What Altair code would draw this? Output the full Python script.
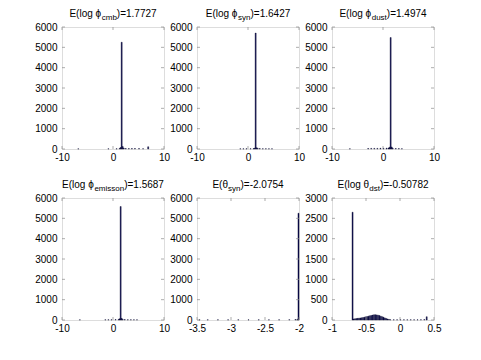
import altair as alt
import pandas as pd

# ---------------- data ----------------
# panel 1: E(log phi_cmb)
p1_start = [-6.9, -1.0, 0.6, 1.2, 1.4, 1.6, 1.8, 2.0, 2.4, 3.0, 3.6, 4.2, 5.0, 5.8, 6.8]
p1_count = [8, 10, 15, 30, 70, 5250, 120, 45, 25, 20, 20, 25, 20, 15, 110]
# panel 2: E(log phi_syn)
p2_start = [-1.6, -1.0, -0.4, 0.4, 1.0, 1.2, 1.4, 1.6, 1.8, 2.2, 2.8, 3.4, 4.0, 4.6]
p2_count = [10, 12, 15, 15, 20, 40, 5700, 60, 30, 20, 15, 15, 12, 10]
# panel 3: E(log phi_dust)
p3_start = [-6.6, -3.0, -2.4, -1.8, -1.2, -0.6, 0.0, 0.6, 1.0, 1.2, 1.4, 1.6, 1.8, 2.4, 3.0, 3.6]
p3_count = [10, 25, 30, 30, 30, 35, 35, 40, 50, 90, 5480, 100, 40, 25, 20, 15]
# panel 4: E(log phi_emisson)
p4_start = [-6.6, -1.6, -1.0, -0.4, 0.4, 1.0, 1.2, 1.4, 1.6, 1.8, 2.2, 2.8, 3.4, 4.0, 4.6]
p4_count = [8, 12, 15, 15, 20, 30, 60, 5580, 80, 30, 20, 15, 15, 12, 10]
# panel 5: E(theta_syn)
p5_start = [-3.47, -3.35, -3.2, -3.05, -2.9, -2.75, -2.6, -2.45, -2.3, -2.15, -2.06, -2.03, -2.015]
p5_count = [10, 10, 12, 10, 12, 10, 12, 10, 12, 15, 20, 40, 5250]
# panel 6: E(log theta_dst)
p6_start = [-0.705, -0.69, -0.67, -0.65, -0.63, -0.61, -0.59, -0.57, -0.55, -0.53, -0.51,
            -0.49, -0.47, -0.45, -0.43, -0.41, -0.39, -0.37, -0.35, -0.33, -0.31,
            -0.29, -0.27, -0.25, -0.23, -0.21, -0.19, -0.17, -0.15,
            -0.1, -0.05, 0.0, 0.05, 0.1, 0.15, 0.2, 0.25, 0.3, 0.35, 0.385]
p6_count = [2650, 25, 30, 35, 40, 45, 50, 55, 62, 70, 78,
            85, 95, 105, 112, 120, 128, 130, 126, 118, 108,
            95, 82, 68, 52, 38, 25, 15, 8,
            6, 6, 8, 6, 5, 6, 5, 6, 8, 10, 80]

bin_width = [0.2, 0.2, 0.2, 0.2, 0.015, 0.015]

x_domains = [[-10, 10], [-10, 10], [-10, 10], [-10, 10], [-3.5, -2], [-1, 0.5]]
x_ticks = [[-10, 0, 10], [-10, 0, 10], [-10, 0, 10], [-10, 0, 10],
           [-3.5, -3, -2.5, -2], [-1, -0.5, 0, 0.5]]
y_domains = [[0, 6000]] * 5 + [[0, 3000]]
y_ticks = [[0, 1000, 2000, 3000, 4000, 5000, 6000]] * 5 + [[0, 500, 1000, 1500, 2000, 2500, 3000]]

title_pre = ["E(log \u03d5", "E(log \u03d5", "E(log \u03d5", "E(log \u03d5", "E(\u03b8", "E(log \u03b8"]
title_sub = ["cmb", "syn", "dust", "emisson", "syn", "dst"]
title_post = [")=1.7727", ")=1.6427", ")=1.4974", ")=1.5687", ")=-2.0754", ")=-0.50782"]

starts = [p1_start, p2_start, p3_start, p4_start, p5_start, p6_start]
counts = [p1_count, p2_count, p3_count, p4_count, p5_count, p6_count]

# ---------------- style ----------------
W, H = 102, 122
FONT = "Liberation Sans"
FS, SFS = 10, 8
BAR = "#0c0c52"
EDGE = "#000028"
FRAME = "#8a8a8a"
TICK = 3

CW = {"E": .667, "(": .333, ")": .333, "l": .222, "o": .556, "g": .556, " ": .278,
      "\u03d5": .62, "\u03b8": .56, "=": .584, ".": .278, "-": .333, "m": .833, "i": .222,
      "t": .278, "s": .5, "y": .5, "c": .5, "n": .556, "b": .556, "d": .556, "u": .556, "e": .556}


def tw(s, size):
    return sum(CW.get(ch, .556) for ch in s) * size


def panel(i):
    df = pd.DataFrame({"start": starts[i], "count": counts[i]})
    df["end"] = df["start"] + bin_width[i]
    xs = alt.Scale(domain=x_domains[i], nice=False, zero=False)
    ys = alt.Scale(domain=y_domains[i], nice=False)
    xax = alt.Axis(values=x_ticks[i], labelExpr="toString(datum.value)", title=None,
                   grid=False, domain=False, ticks=False, labelPadding=3,
                   labelFlush=False, labelOverlap=False)
    yax = alt.Axis(values=y_ticks[i], labelExpr="toString(datum.value)", title=None,
                   grid=False, domain=False, ticks=False, labelPadding=5,
                   labelFlush=False, labelOverlap=False)
    bars = alt.Chart(df).mark_bar(color=BAR, stroke=EDGE, strokeWidth=0.4).encode(
        x=alt.X("start:Q", scale=xs, axis=xax),
        x2="end:Q",
        y=alt.Y("count:Q", scale=ys, axis=yax),
        y2=alt.datum(0),
    )
    ydf = pd.DataFrame({"v": y_ticks[i]})
    xdf = pd.DataFrame({"v": x_ticks[i]})
    ty_l = alt.Chart(ydf).mark_tick(color=FRAME, size=TICK, thickness=1).encode(
        y=alt.Y("v:Q", scale=ys, axis=yax), x=alt.value(TICK / 2))
    ty_r = alt.Chart(ydf).mark_tick(color=FRAME, size=TICK, thickness=1).encode(
        y=alt.Y("v:Q", scale=ys, axis=yax), x=alt.value(W - TICK / 2))
    tx_b = alt.Chart(xdf).mark_tick(color=FRAME, size=TICK, thickness=1).encode(
        x=alt.X("v:Q", scale=xs, axis=xax), y=alt.value(H - TICK / 2))
    tx_t = alt.Chart(xdf).mark_tick(color=FRAME, size=TICK, thickness=1).encode(
        x=alt.X("v:Q", scale=xs, axis=xax), y=alt.value(TICK / 2))
    # title in three parts (main, subscript, rest)
    w_pre = tw(title_pre[i], FS)
    w_sub = tw(title_sub[i], SFS)
    w_post = tw(title_post[i], FS)
    x0 = W / 2 - (w_pre + w_sub + w_post) / 2
    tdf = pd.DataFrame({"a": [0]})
    t_pre = alt.Chart(tdf).mark_text(text=title_pre[i], font=FONT, fontSize=FS, align="left",
                                     baseline="alphabetic", color="black").encode(
        x=alt.value(x0), y=alt.value(-10))
    t_sub = alt.Chart(tdf).mark_text(text=title_sub[i], font=FONT, fontSize=SFS, align="left",
                                     baseline="alphabetic", color="black").encode(
        x=alt.value(x0 + w_pre), y=alt.value(-7))
    t_post = alt.Chart(tdf).mark_text(text=title_post[i], font=FONT, fontSize=FS, align="left",
                                      baseline="alphabetic", color="black").encode(
        x=alt.value(x0 + w_pre + w_sub), y=alt.value(-10))
    return alt.layer(bars, ty_l, ty_r, tx_b, tx_t, t_pre, t_sub, t_post).properties(width=W, height=H)


chart = alt.concat(*[panel(i) for i in range(6)], columns=3,
                   spacing=alt.RowColnumber(row=49, column=33),
                   bounds="flush").properties(
    padding={"left": 26, "top": 0, "right": 5, "bottom": 5}
).configure_view(stroke=FRAME, strokeWidth=1).configure_axis(
    labelFont=FONT, labelFontSize=10, labelColor="black"
).configure(background="white")

chart.save("out.html", embed_options={"renderer": "svg", "actions": False})
